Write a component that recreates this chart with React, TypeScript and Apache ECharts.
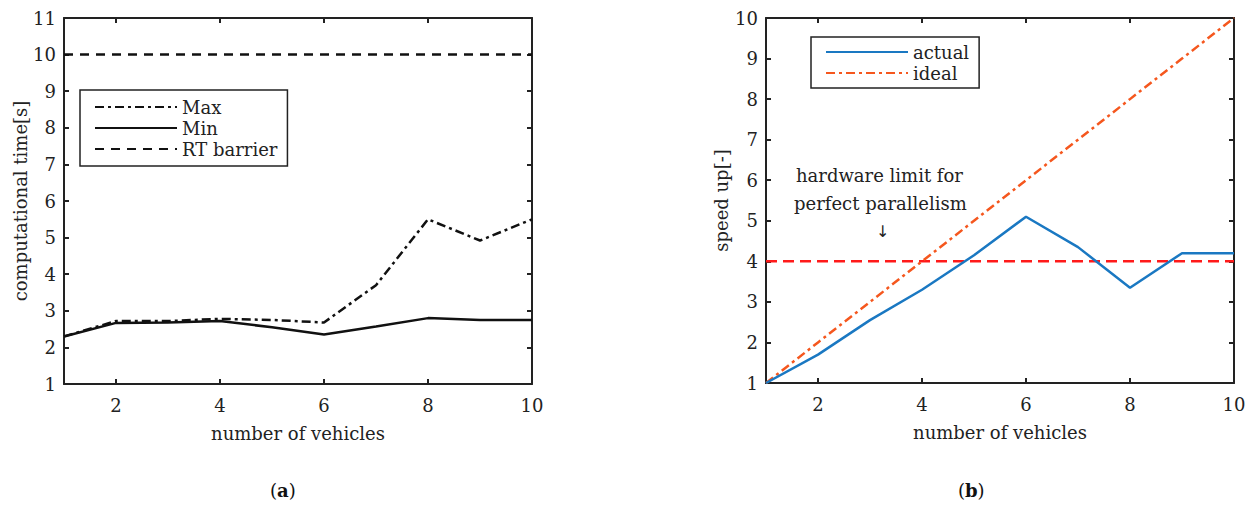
import React, { useEffect, useRef } from "react";
import * as echarts from "echarts";

const vehicles = [1, 2, 3, 4, 5, 6, 7, 8, 9, 10];
const maxTime = [2.3, 2.72, 2.72, 2.78, 2.75, 2.68, 3.7, 5.5, 4.92, 5.5];
const minTime = [2.3, 2.67, 2.68, 2.72, 2.55, 2.35, 2.57, 2.8, 2.75, 2.75];
const rtBarrier = [10, 10, 10, 10, 10, 10, 10, 10, 10, 10];
const actualSpeed = [1, 1.7, 2.55, 3.3, 4.15, 5.1, 4.35, 3.35, 4.2, 4.2];
const idealSpeed = [1, 2, 3, 4, 5, 6, 7, 8, 9, 10];
const hardwareLimit = [4, 4, 4, 4, 4, 4, 4, 4, 4, 4];
const xTicks = [2, 4, 6, 8, 10];

const FONT = "DejaVu Serif";
const TXT = "#222";
const FS = 18;

const pairs = (ys: number[]) => vehicles.map((x, i) => [x, ys[i]]);

export default function App() {
  const ref = useRef<HTMLDivElement>(null);
  useEffect(() => {
    if (!ref.current) return;
    const chart = echarts.init(ref.current, undefined, { renderer: "svg" });
    const axisLine = { show: true, lineStyle: { color: "#222", width: 2 } };
    const nameStyle = { fontFamily: FONT, fontSize: FS, color: TXT };
    const xBase = (grid: number, pos: "bottom" | "top") => ({
      type: "value",
      gridIndex: grid,
      position: pos,
      min: 1,
      max: 10,
      axisLine,
      splitLine: { show: false },
      axisTick: { show: true, inside: true, length: 5, customValues: xTicks, lineStyle: { color: "#222", width: 2 } },
      axisLabel: {
        show: pos === "bottom",
        customValues: xTicks,
        fontFamily: FONT,
        fontSize: FS,
        color: TXT,
        margin: 12,
      },
    });
    const yBase = (grid: number, pos: "left" | "right", max: number) => ({
      type: "value",
      gridIndex: grid,
      position: pos,
      min: 1,
      max,
      interval: 1,
      axisLine,
      splitLine: { show: false },
      axisTick: { show: true, inside: true, length: 5, lineStyle: { color: "#222", width: 2 } },
      axisLabel: { show: pos === "left", fontFamily: FONT, fontSize: FS, color: TXT, margin: 8 },
    });
    const xAxes: any[] = [
      { ...xBase(0, "bottom"), name: "number of vehicles", nameLocation: "middle", nameGap: 40, nameTextStyle: nameStyle },
      xBase(0, "top"),
      { ...xBase(1, "bottom"), name: "number of vehicles", nameLocation: "middle", nameGap: 40, nameTextStyle: nameStyle },
      xBase(1, "top"),
    ];
    const yAxes: any[] = [
      { ...yBase(0, "left", 11), name: "computational time[s]", nameLocation: "middle", nameGap: 34, nameTextStyle: nameStyle },
      yBase(0, "right", 11),
      { ...yBase(1, "left", 10), name: "speed up[-]", nameLocation: "middle", nameGap: 36, nameTextStyle: nameStyle },
      yBase(1, "right", 10),
    ];
    const line = (name: string, ys: number[], xi: number, yi: number, color: string, type: any, width = 2.5) => ({
      name,
      type: "line",
      xAxisIndex: xi,
      yAxisIndex: yi,
      data: pairs(ys),
      symbol: "none",
      lineStyle: { color, width, type },
      itemStyle: { color },
      z: 3,
    });
    const legendBase = {
      orient: "vertical",
      borderColor: "#222",
      borderWidth: 1.5,
      borderRadius: 0,
      backgroundColor: "#fff",
      itemWidth: 82,
      itemHeight: 14,
      itemGap: 3,
      itemStyle: { opacity: 0 },
      textStyle: { fontFamily: FONT, fontSize: FS, color: TXT },
    };
    chart.setOption({
      animation: false,
      backgroundColor: "#fff",
      grid: [
        { left: 64, top: 18, width: 468, height: 366 },
        { left: 766, top: 18, width: 468, height: 365 },
      ],
      xAxis: xAxes,
      yAxis: yAxes,
      legend: [
        { ...legendBase, data: ["Max", "Min", "RT barrier"], left: 80, top: 90, padding: [8, 10, 8, 14] },
        { ...legendBase, data: ["actual", "ideal"], left: 811, top: 37, padding: [6, 10, 6, 14] },
      ],
      series: [
        line("Max", maxTime, 0, 0, "#111", [9, 4, 3, 4]),
        line("Min", minTime, 0, 0, "#111", "solid"),
        line("RT barrier", rtBarrier, 0, 0, "#111", [9, 7]),
        line("hardware limit", hardwareLimit, 2, 2, "#ff1a1a", [11, 6]),
        line("ideal", idealSpeed, 2, 2, "#f5571e", [9, 4, 3, 4]),
        line("actual", actualSpeed, 2, 2, "#1a78c2", "solid"),
      ],
      graphic: [
        { type: "text", left: 796, top: 166, style: { text: "hardware limit for", fontFamily: FONT, fontSize: FS, fill: TXT } },
        { type: "text", left: 794, top: 194, style: { text: "perfect parallelism", fontFamily: FONT, fontSize: FS, fill: TXT } },
        { type: "text", left: 876, top: 223, style: { text: "↓", fontFamily: "DejaVu Sans", fontSize: 16, fill: TXT } },
        {
          type: "text",
          left: 270,
          top: 481,
          style: {
            text: "({b|a})",
            fontFamily: FONT,
            fontSize: 18,
            fill: "#111",
            rich: { b: { fontFamily: FONT, fontSize: 18, fontWeight: "bold", fill: "#111" } },
          },
        },
        {
          type: "text",
          left: 958,
          top: 481,
          style: {
            text: "({b|b})",
            fontFamily: FONT,
            fontSize: 18,
            fill: "#111",
            rich: { b: { fontFamily: FONT, fontSize: 18, fontWeight: "bold", fill: "#111" } },
          },
        },
      ],
    });
    return () => chart.dispose();
  }, []);
  return <div ref={ref} style={{ position: "absolute", left: 0, top: 0, width: 1250, height: 506 }} />;
}
